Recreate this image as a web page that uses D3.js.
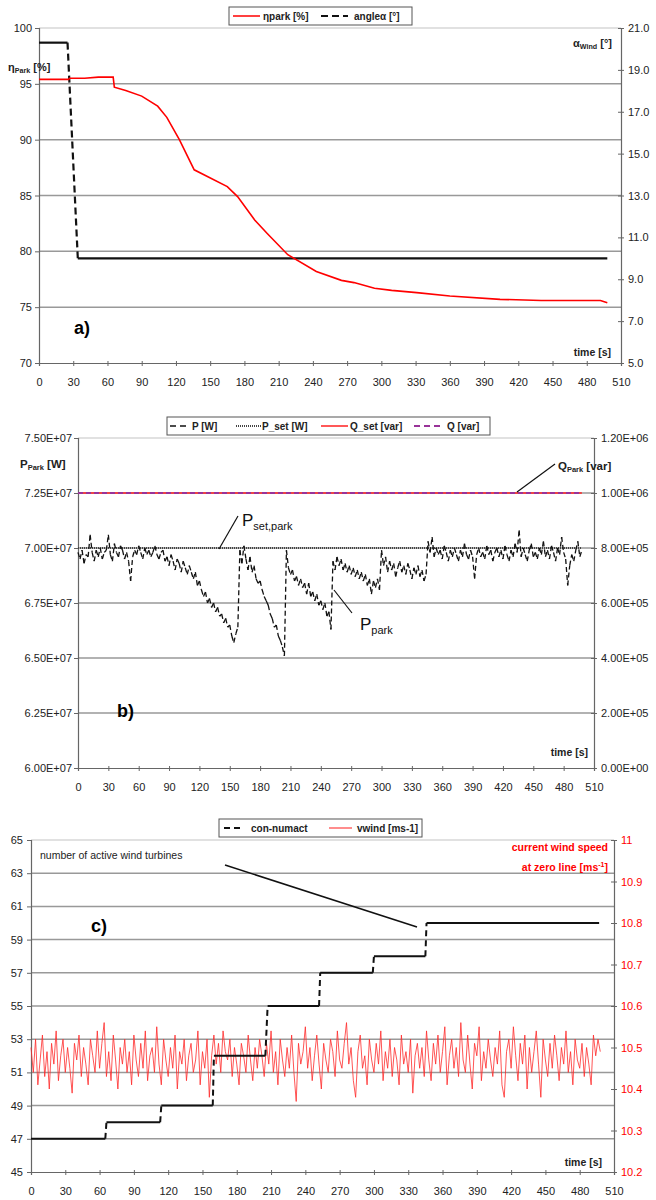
<!DOCTYPE html>
<html>
<head>
<meta charset="utf-8">
<script src="https://cdn.jsdelivr.net/npm/d3@7"></script>
<style>
  body { margin: 0; background: #fff; }
  svg text { font-family: "Liberation Sans", Arial, sans-serif; }
</style>
</head>
<body>
<svg id="chart" width="656" height="1200"></svg>
<script>
// ---- shared
var timeTicks = [0, 30, 60, 90, 120, 150, 180, 210, 240, 270, 300, 330, 360, 390, 420, 450, 480, 510];
var sampleStep = 2; // seconds between samples of the noisy series

// ---- panel a
var etaTime = [0, 26, 27, 40, 52, 65, 66, 76, 90, 104, 112, 123, 136, 165, 174, 189, 200, 218, 243, 265, 276, 294, 309, 331, 360, 404, 440, 492, 498];
var etaPark = [95.4, 95.4, 95.5, 95.5, 95.6, 95.6, 94.7, 94.4, 93.9, 93.0, 92.0, 90.0, 87.3, 85.8, 84.9, 82.8, 81.6, 79.7, 78.2, 77.4, 77.2, 76.7, 76.5, 76.3, 76.0, 75.7, 75.6, 75.6, 75.4];
var angleTime = [0, 25, 34, 498];
var angleWind = [20.3, 20.3, 10.0, 10.0];
var etaTicks = [70, 75, 80, 85, 90, 95, 100];
var angleTicks = [5, 7, 9, 11, 13, 15, 17, 19, 21];
var legendA = ["\u03b7park [%]", "angle\u03b1 [\u00b0]"];

// ---- panel b (P in MW, one value every 2 s)
var parkPowerMW = [
  69.8, 69.5, 69.9, 69.3, 69.7, 69.6, 70.6, 69.8, 69.4, 69.9, 69.6, 70.0, 69.5, 69.8, 69.9, 70.6, 69.7, 69.4, 70.2, 69.8,
  69.6, 70.1, 69.9, 69.5, 69.8, 69.4, 68.5, 69.6, 69.9, 69.7, 70.1, 69.8, 69.5, 70.0, 69.7, 69.9, 69.6, 69.8, 70.1, 69.7,
  69.5, 69.8, 69.9, 69.4,
  69.6, 69.2, 69.7, 69.4, 69.0, 69.5, 69.3, 68.9, 69.4, 69.1, 68.8, 69.2, 68.9, 68.6, 68.9, 68.3, 68.5, 68.1, 67.8, 68.0,
  67.5, 67.7, 67.3, 67.5, 67.1, 67.3, 66.9, 67.0, 66.6, 66.8, 66.4, 66.5, 66.0, 65.7, 66.1, 66.4,
  69.9, 69.3, 70.1, 69.5, 69.0, 69.6, 68.9, 69.2, 68.6, 68.4, 68.5, 68.1, 67.8, 67.6, 67.4, 67.0, 66.8, 66.4, 66.5, 66.0,
  65.8, 65.5, 65.1,
  69.9, 69.1, 68.8, 69.0, 68.5, 68.7, 68.3, 68.6, 68.2, 68.4, 67.9, 68.4, 67.8, 68.0, 67.6, 67.9, 67.4, 67.6, 67.2, 67.5,
  66.9, 67.1, 66.3,
  69.4, 69.0, 69.6, 69.2, 69.5, 69.0, 69.3, 68.9, 69.2, 68.8, 69.1, 68.7, 69.0, 68.6, 68.9, 68.5, 68.8, 68.3, 68.6, 67.9,
  68.5, 68.2, 68.6, 68.1,
  69.9, 69.2, 69.6, 68.9, 69.4, 69.0, 69.3, 68.7, 69.1, 69.4, 68.9, 69.2, 68.8, 69.3, 69.0, 68.6, 69.1, 68.8, 69.2, 68.7,
  69.0, 68.5, 68.8,
  70.3, 69.8, 70.5, 69.6, 70.0, 69.7, 69.9, 69.5, 70.1, 69.8, 69.4, 69.9, 69.6, 70.0, 69.7, 69.4, 69.9, 69.6, 70.2, 69.7,
  69.5, 69.9, 69.6, 68.6, 69.7, 70.0, 69.6, 69.8, 69.5, 70.1, 69.7, 69.9, 69.4, 69.8, 70.0, 69.6, 69.9, 69.5, 70.1, 69.7,
  69.4, 69.9, 69.6, 70.2, 69.8, 70.8, 69.6, 70.0, 69.7, 69.4, 69.9, 70.2, 69.6, 69.8, 69.5, 70.0, 69.7, 70.3, 69.6, 69.9,
  69.5, 70.1, 69.8, 69.4, 70.0, 69.7, 70.5, 69.8, 69.5, 68.3, 69.2, 69.7, 69.4, 69.9, 70.3, 69.6, 69.9
];
var pSetW = 7.0e7;
var qSetVar = 1.0e6;
var qVar = 1.0e6;
var seriesEndTime = 498;
var powerTicks = [6.0e7, 6.25e7, 6.5e7, 6.75e7, 7.0e7, 7.25e7, 7.5e7];
var reactiveTicks = [0, 2e5, 4e5, 6e5, 8e5, 1.0e6, 1.2e6];
var legendB = ["P [W]", "P_set [W]", "Q_set [var]", "Q [var]"];

// ---- panel c
var turbineTime = [0, 65, 66, 113, 114, 159, 160, 205, 207, 252, 253, 299, 300, 345, 346, 497];
var turbinesActive = [47, 47, 48, 48, 49, 49, 52, 52, 55, 55, 57, 57, 58, 58, 60, 60];
var windSpeed = [
  10.50, 10.44, 10.52, 10.41, 10.47, 10.53, 10.43, 10.49, 10.40, 10.51,
  10.46, 10.54, 10.42, 10.48, 10.52, 10.44, 10.50, 10.45, 10.39, 10.51,
  10.47, 10.53, 10.43, 10.50, 10.46, 10.41, 10.52, 10.48, 10.44, 10.54,
  10.45, 10.51, 10.56, 10.43, 10.49, 10.42, 10.53, 10.47, 10.40, 10.50,
  10.46, 10.52, 10.44, 10.49, 10.41, 10.53, 10.47, 10.43, 10.51, 10.45,
  10.54, 10.42, 10.48, 10.50, 10.44, 10.55, 10.46, 10.41, 10.52, 10.47,
  10.43, 10.50, 10.45, 10.53, 10.40, 10.49, 10.46, 10.52, 10.42, 10.48,
  10.51, 10.44, 10.47, 10.54, 10.41, 10.49, 10.45, 10.52, 10.38, 10.48,
  10.53, 10.46, 10.51, 10.44, 10.54, 10.49, 10.47, 10.52, 10.43, 10.50,
  10.46, 10.41, 10.51, 10.48, 10.44, 10.53, 10.47, 10.42, 10.50, 10.45,
  10.52, 10.48, 10.43, 10.51, 10.46, 10.54, 10.44, 10.49, 10.41, 10.52,
  10.47, 10.43, 10.50, 10.45, 10.53, 10.44, 10.37, 10.51, 10.46, 10.49,
  10.55, 10.45, 10.50, 10.42, 10.48, 10.53, 10.46, 10.40, 10.51, 10.47,
  10.44, 10.52, 10.49, 10.43, 10.54, 10.47, 10.45, 10.51, 10.56, 10.46,
  10.50, 10.42, 10.38, 10.49, 10.53, 10.45, 10.48, 10.41, 10.52, 10.47,
  10.44, 10.51, 10.46, 10.54, 10.42, 10.49, 10.45, 10.52, 10.43, 10.50,
  10.47, 10.41, 10.53, 10.46, 10.49, 10.44, 10.52, 10.39, 10.48, 10.51,
  10.45, 10.50, 10.43, 10.54, 10.47, 10.42, 10.51, 10.46, 10.53, 10.44,
  10.49, 10.55, 10.41, 10.48, 10.52, 10.45, 10.50, 10.43, 10.56, 10.47,
  10.44, 10.53, 10.46, 10.40, 10.51, 10.48, 10.55, 10.42, 10.49, 10.45,
  10.52, 10.47, 10.43, 10.50, 10.46, 10.54, 10.41, 10.38, 10.49, 10.52,
  10.45, 10.55, 10.48, 10.42, 10.51, 10.46, 10.53, 10.40, 10.50, 10.44,
  10.49, 10.54, 10.46, 10.38, 10.52, 10.47, 10.43, 10.51, 10.45, 10.53,
  10.48, 10.42, 10.50, 10.46, 10.54, 10.44, 10.49, 10.41, 10.52, 10.47,
  10.45, 10.51, 10.43, 10.50, 10.46, 10.41, 10.53, 10.48, 10.52, 10.49
];
var turbineTicks = [45, 47, 49, 51, 53, 55, 57, 59, 61, 63, 65];
var windTicks = [10.2, 10.3, 10.4, 10.5, 10.6, 10.7, 10.8, 10.9, 11.0];
var legendC = ["con-numact", "vwind [ms-1]"];

var svg = d3.select("#chart");
svg.append("rect").attr("width", 656).attr("height", 1200).attr("fill", "#fff");

function expFmt(v) {
  var s = v.toExponential(2).split("e");
  var e = parseInt(s[1], 10);
  return s[0] + "E" + (e < 0 ? "-" : "+") + String(Math.abs(e)).padStart(2, "0");
}

// draws a line one segment at a time: flat segments solid, moving ones dashed
// (the way the spreadsheet restarts its dash pattern on every point)
function segLine(g, pts, color, width, dash) {
  for (var i = 1; i < pts.length; i++) {
    var a = pts[i - 1], b = pts[i];
    g.append("line")
      .attr("x1", a[0]).attr("y1", a[1]).attr("x2", b[0]).attr("y2", b[1])
      .attr("stroke", color).attr("stroke-width", width)
      .attr("stroke-dasharray", a[1] === b[1] ? null : dash);
  }
}

function styleAxis(sel, color, size) {
  sel.select(".domain").attr("stroke", "#666").attr("stroke-width", 1.2);
  sel.selectAll(".tick line").attr("stroke", "#666");
  sel.selectAll(".tick text").attr("fill", color).attr("font-size", size)
    .attr("font-family", "'Liberation Sans', Arial, sans-serif");
}

// frame: gridlines, top border, three axes
function frame(p, x, yL, leftTicks, leftFmt, leftPad, yR, rightTicks, rightFmt, rightColor) {
  var g = svg.append("g");
  leftTicks.slice(1, -1).forEach(function(v) {
    g.append("line").attr("x1", p.l).attr("x2", p.r).attr("y1", yL(v)).attr("y2", yL(v))
      .attr("stroke", "#999").attr("stroke-width", 1.5);
  });
  g.append("line").attr("x1", p.l).attr("x2", p.r).attr("y1", p.t).attr("y2", p.t)
    .attr("stroke", "#c4c4c4").attr("stroke-width", 1.2);

  var la = g.append("g").attr("transform", "translate(" + p.l + ",0)")
    .call(d3.axisLeft(yL).tickValues(leftTicks).tickFormat(leftFmt).tickSize(4).tickPadding(leftPad));
  styleAxis(la, "#222", 11);

  var ra = g.append("g").attr("transform", "translate(" + p.r + ",0)")
    .call(d3.axisRight(yR).tickValues(rightTicks).tickFormat(rightFmt).tickSize(3).tickPadding(4));
  ra.selectAll(".tick line").attr("x1", -3);
  styleAxis(ra, rightColor, 11);

  var ba = g.append("g").attr("transform", "translate(0," + p.b + ")")
    .call(d3.axisBottom(x).tickValues(timeTicks).tickSize(3).tickPadding(12));
  ba.selectAll(".tick line").attr("y1", -2);
  styleAxis(ba, "#222", 11);
  return g;
}

function legendBox(x, y, w) {
  svg.append("rect").attr("x", x).attr("y", y).attr("width", w).attr("height", 18)
    .attr("fill", "#fff").attr("stroke", "#555").attr("stroke-width", 1);
}
function legendText(x, y, t) {
  svg.append("text").attr("x", x).attr("y", y).attr("font-size", 10).attr("font-weight", "bold")
    .attr("fill", "#222").text(t);
}
function sample(x1, x2, y, color, width, dash) {
  svg.append("line").attr("x1", x1).attr("x2", x2).attr("y1", y).attr("y2", y)
    .attr("stroke", color).attr("stroke-width", width).attr("stroke-dasharray", dash);
}
function subLabel(x, y, main, sub, rest, size, anchor, color, weight) {
  var t = svg.append("text").attr("x", x).attr("y", y).attr("font-size", size)
    .attr("text-anchor", anchor || "start").attr("fill", color || "#222")
    .attr("font-weight", weight || "bold");
  t.append("tspan").text(main);
  t.append("tspan").attr("font-size", size * 0.65).attr("dy", 2).text(sub);
  t.append("tspan").attr("dy", -2).text(rest);
}

// ================= panel a =================
var pa = { l: 39, r: 621, t: 28, b: 363 };
var xa = d3.scaleLinear().domain([0, 510]).range([pa.l, pa.r]);
var ya = d3.scaleLinear().domain([70, 100]).range([pa.b, pa.t]);
var ya2 = d3.scaleLinear().domain([5, 21]).range([pa.b, pa.t]);
frame(pa, xa, ya, etaTicks, d3.format("d"), 3, ya2, angleTicks, d3.format(".1f"), "#222");

var gA = svg.append("g");
segLine(gA, angleTime.map(function(t, i) { return [xa(t), ya2(angleWind[i])]; }), "#111", 2.2, "7,4");
gA.append("path")
  .datum(etaTime.map(function(t, i) { return [t, etaPark[i]]; }))
  .attr("fill", "none").attr("stroke", "#ff0000").attr("stroke-width", 1.6)
  .attr("d", d3.line().x(function(d) { return xa(d[0]); }).y(function(d) { return ya(d[1]); }));

legendBox(229, 7, 183);
sample(233, 260, 16, "#ff0000", 1.5, null);
legendText(263, 20, legendA[0]);
sample(321, 348, 16, "#111", 2, "7,4");
legendText(354, 20, legendA[1]);

subLabel(8, 71, "\u03b7", "Park", " [%]", 11);
subLabel(612, 47, "\u03b1", "Wind", " [\u00b0]", 11, "end");
svg.append("text").attr("x", 611).attr("y", 356).attr("text-anchor", "end")
  .attr("font-size", 10.5).attr("font-weight", "bold").attr("fill", "#222").text("time [s]");
svg.append("text").attr("x", 74).attr("y", 334).attr("font-family", "'Liberation Serif', 'Times New Roman', serif")
  .attr("font-size", 18).attr("font-weight", "bold").text("a)");

// ================= panel b =================
var pb = { l: 78, r: 594, t: 438, b: 768 };
var xb = d3.scaleLinear().domain([0, 510]).range([pb.l, pb.r]);
var yb = d3.scaleLinear().domain([6.0e7, 7.5e7]).range([pb.b, pb.t]);
var yb2 = d3.scaleLinear().domain([0, 1.2e6]).range([pb.b, pb.t]);
frame(pb, xb, yb, powerTicks, expFmt, 2, yb2, reactiveTicks, expFmt, "#222");

var gB = svg.append("g");
gB.append("line").attr("x1", xb(0)).attr("x2", xb(seriesEndTime)).attr("y1", yb(pSetW)).attr("y2", yb(pSetW))
  .attr("stroke", "#444").attr("stroke-width", 2).attr("stroke-dasharray", "1,1");
gB.append("line").attr("x1", xb(0)).attr("x2", xb(seriesEndTime)).attr("y1", yb2(qSetVar)).attr("y2", yb2(qSetVar))
  .attr("stroke", "#ff2020").attr("stroke-width", 1.6);
gB.append("line").attr("x1", xb(0)).attr("x2", xb(seriesEndTime)).attr("y1", yb2(qVar)).attr("y2", yb2(qVar))
  .attr("stroke", "#993399").attr("stroke-width", 2.2).attr("stroke-dasharray", "5,3");
segLine(gB, parkPowerMW.map(function(v, i) { return [xb(i * sampleStep), yb(v * 1e6)]; }), "#111", 1.3, "5,3");

legendBox(167, 417, 323);
sample(170, 188, 426, "#111", 1.5, "6,4");
legendText(192, 430, legendB[0]);
sample(236, 261, 426, "#444", 2, "1,1");
legendText(262, 430, legendB[1]);
sample(321, 348, 426, "#ff2020", 1.5, null);
legendText(350, 430, legendB[2]);
sample(414, 444, 426, "#993399", 2, "6,4");
legendText(447, 430, legendB[3]);

subLabel(20, 468, "P", "Park", " [W]", 11.5);
subLabel(558, 470, "Q", "Park", " [var]", 11.5);
svg.append("line").attr("x1", 517).attr("y1", 492).attr("x2", 555).attr("y2", 464).attr("stroke", "#111").attr("stroke-width", 1.2);

var serif = "'Liberation Serif', 'Times New Roman', serif";
var ps = svg.append("text").attr("x", 242).attr("y", 526).attr("font-family", serif).attr("font-size", 17).attr("fill", "#111");
ps.append("tspan").text("P");
ps.append("tspan").attr("font-size", 11).attr("dy", 4).text("set,park");
svg.append("line").attr("x1", 238).attr("y1", 516).attr("x2", 219).attr("y2", 549).attr("stroke", "#111").attr("stroke-width", 1.2);

var pp = svg.append("text").attr("x", 360).attr("y", 630).attr("font-family", serif).attr("font-size", 17).attr("fill", "#111");
pp.append("tspan").text("P");
pp.append("tspan").attr("font-size", 11).attr("dy", 4).text("park");
svg.append("line").attr("x1", 334).attr("y1", 590).attr("x2", 352).attr("y2", 613).attr("stroke", "#111").attr("stroke-width", 1.2);

svg.append("text").attr("x", 588).attr("y", 756).attr("text-anchor", "end")
  .attr("font-size", 10.5).attr("font-weight", "bold").attr("fill", "#222").text("time [s]");
svg.append("text").attr("x", 117).attr("y", 717).attr("font-family", serif)
  .attr("font-size", 18).attr("font-weight", "bold").text("b)");

// ================= panel c =================
var pc = { l: 31, r: 614, t: 840, b: 1172 };
var xc = d3.scaleLinear().domain([0, 510]).range([pc.l, pc.r]);
var yc = d3.scaleLinear().domain([45, 65]).range([pc.b, pc.t]);
var yc2 = d3.scaleLinear().domain([10.2, 11.0]).range([pc.b, pc.t]);
frame(pc, xc, yc, turbineTicks, d3.format("d"), 4, yc2, windTicks, d3.format(".3~g"), "#ff0000");

var gC = svg.append("g");
gC.append("path")
  .datum(windSpeed)
  .attr("fill", "none").attr("stroke", "#ff2a2a").attr("stroke-width", 0.8)
  .attr("d", d3.line().x(function(d, i) { return xc(i * sampleStep); }).y(function(d) { return yc2(d); }));
segLine(gC, turbineTime.map(function(t, i) { return [xc(t), yc(turbinesActive[i])]; }), "#111", 2, "6,4");

legendBox(219, 819, 203);
sample(224, 244, 828, "#111", 2, "6,4");
legendText(251, 832, legendC[0]);
sample(329, 352, 828, "#ff4040", 1.2, null);
legendText(357, 832, legendC[1]);

svg.append("text").attr("x", 40).attr("y", 859).attr("font-size", 10.5).attr("fill", "#222")
  .text("number of active wind turbines");
svg.append("line").attr("x1", 225).attr("y1", 865).attr("x2", 417).attr("y2", 927)
  .attr("stroke", "#111").attr("stroke-width", 1.5);

svg.append("text").attr("x", 608).attr("y", 851).attr("text-anchor", "end")
  .attr("font-size", 10.5).attr("font-weight", "bold").attr("fill", "#ff0000").text("current wind speed");
var zl = svg.append("text").attr("x", 608).attr("y", 871).attr("text-anchor", "end")
  .attr("font-size", 10.5).attr("font-weight", "bold").attr("fill", "#ff0000");
zl.append("tspan").text("at zero line [ms");
zl.append("tspan").attr("font-size", 7).attr("dy", -4).text("-1");
zl.append("tspan").attr("dy", 4).text("]");

svg.append("text").attr("x", 602).attr("y", 1166).attr("text-anchor", "end")
  .attr("font-size", 10.5).attr("font-weight", "bold").attr("fill", "#222").text("time [s]");
svg.append("text").attr("x", 91).attr("y", 932).attr("font-family", serif)
  .attr("font-size", 18).attr("font-weight", "bold").text("c)");
</script>
</body>
</html>
